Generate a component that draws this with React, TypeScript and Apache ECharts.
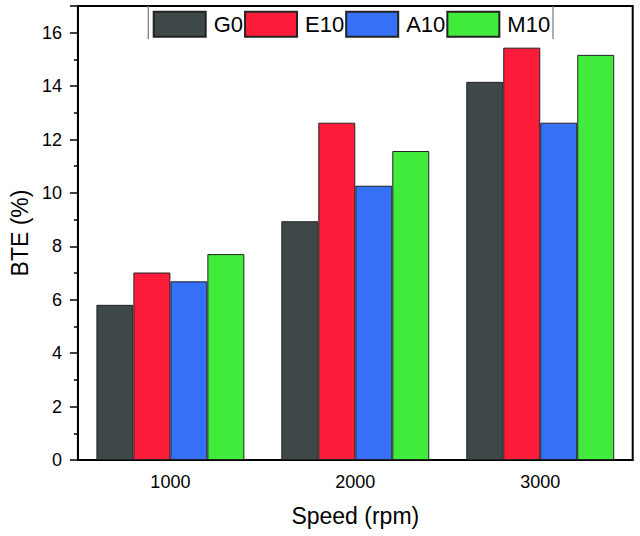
import * as echarts from 'echarts';
import { useEffect, useRef } from 'react';

const speeds = ['1000', '2000', '3000'];
const seriesNames = ['G0', 'E10', 'A10', 'M10'];
const g0 = [5.81, 8.94, 14.16];
const e10 = [7.02, 12.63, 15.44];
const a10 = [6.69, 10.27, 12.63];
const m10 = [7.71, 11.57, 15.17];
const colors = ['#3f4848', '#fd1c3a', '#3570f6', '#41eb3b'];

const font = 'Liberation Sans, Arial, sans-serif';

export default function App() {
  const container = useRef<HTMLDivElement | null>(null);

  useEffect(() => {
    if (!container.current) return;
    const chart = echarts.init(container.current, null, { renderer: 'svg' });
    const values = [g0, e10, a10, m10];

    chart.setOption({
      animation: false,
      textStyle: { fontFamily: font },
      grid: {
        left: 69.3,
        right: 7.3,
        top: 6,
        bottom: 76,
        show: true,
        borderColor: '#000',
        borderWidth: 2,
      },
      legend: {
        left: 152.7,
        top: 10.7,
        padding: 0,
        itemWidth: 52,
        itemHeight: 25,
        itemGap: 1,
        icon: 'rect',
        data: seriesNames,
        textStyle: { fontSize: 22, color: '#000', fontFamily: font, padding: [0, 0, 0, 3] },
      },
      graphic: [
        { type: 'line', shape: { x1: 148.3, y1: 6, x2: 148.3, y2: 39 }, style: { stroke: '#777', lineWidth: 1.2 } },
        { type: 'line', shape: { x1: 553, y1: 6, x2: 553, y2: 39 }, style: { stroke: '#777', lineWidth: 1.2 } },
      ],
      xAxis: [
        {
          type: 'category',
          data: speeds,
          name: 'Speed (rpm)',
          nameLocation: 'middle',
          nameGap: 44,
          nameTextStyle: { fontSize: 23, color: '#000', fontFamily: font },
          axisLine: { lineStyle: { color: '#000', width: 2 } },
          axisTick: { alignWithLabel: true, length: 7, lineStyle: { color: '#000', width: 1.5 } },
          axisLabel: { fontSize: 18, color: '#000', margin: 13, fontFamily: font },
        },
        {
          type: 'category',
          data: speeds,
          position: 'bottom',
          axisLine: { show: false },
          axisTick: { length: 4, lineStyle: { color: '#000', width: 1.5 } },
          axisLabel: { show: false },
        },
      ],
      yAxis: {
        type: 'value',
        min: 0,
        max: 17,
        interval: 2,
        name: 'BTE (%)',
        nameLocation: 'middle',
        nameGap: 42,
        nameTextStyle: { fontSize: 23, color: '#000', fontFamily: font },
        axisLine: { show: true, lineStyle: { color: '#000', width: 2 } },
        axisTick: { show: true, length: 8, lineStyle: { color: '#000', width: 1.5 } },
        minorTick: { show: true, splitNumber: 2, length: 4, lineStyle: { color: '#000', width: 1.5 } },
        splitLine: { show: false },
        axisLabel: { fontSize: 18, color: '#000', margin: 16, fontFamily: font, showMaxLabel: false },
      },
      series: seriesNames.map((name, i) => ({
        name,
        type: 'bar',
        data: values[i],
        barGap: '0%',
        barCategoryGap: '20%',
        itemStyle: { color: colors[i], borderColor: '#222', borderWidth: 1 },
      })),
    } as echarts.EChartsOption);

    return () => {
      chart.dispose();
    };
  }, []);

  return (
    <div
      ref={container}
      style={{ position: 'fixed', left: 0, top: 0, width: '640px', height: '536px', background: '#fff' }}
    />
  );
}
